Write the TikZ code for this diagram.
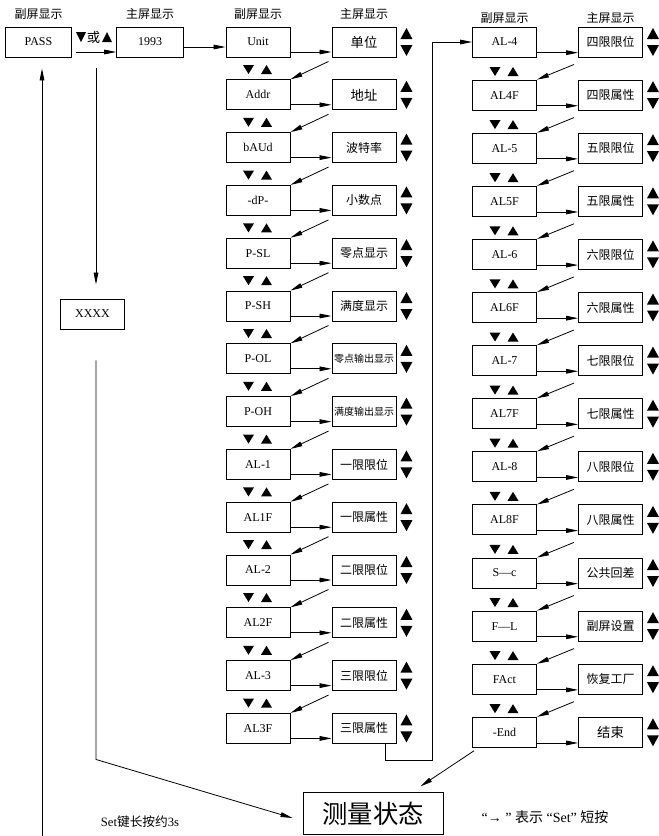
\documentclass[tikz,border=0pt]{standalone}
\usepackage{fontspec}
\setmainfont{Liberation Serif}
\newfontfamily\cjk{Noto Sans CJK SC}
\usetikzlibrary{positioning, arrows.meta}

\begin{document}
\begin{tikzpicture}[x=0.75pt, y=-0.75pt, font=\fontsize{9}{10}\selectfont,
    box/.style={draw, line width=0.7pt, minimum width=48pt, minimum height=22.5pt, inner sep=0pt},
    disp/.style={box, font=\cjk\fontsize{9}{10}\selectfont},
    head/.style={font=\cjk\fontsize{9}{10}\selectfont, inner sep=0pt},
    arr/.style={-{Triangle[length=9pt, width=3.5pt]}, line width=0.6pt}]
  \useasboundingbox (0,0) rectangle (658,836);
  % top row: password
  \node[box, minimum width=50pt] (pass) at (38.5,42) {PASS};
  \node[box, minimum width=50pt] (yr) at (150,42) {1993};
  \node[head, above=5pt of pass] (hp) {副屏显示};
  \node[head, above=5pt of yr] (hy) {主屏显示};
  \node[head, font=\cjk\fontsize{10}{11}\selectfont] (orkey) at (93.5,37) {或};
  \fill ([shift={(-17.5,-5)}]orkey.center) -- ++(10,0) -- ++(-5,10) -- cycle;
  \fill ([shift={(8.5,5)}]orkey.center) -- ++(10,0) -- ++(-5,-10) -- cycle;
  \node[box] (xxxx) at (92.5,314) {XXXX};
  \node[box, minimum width=105pt, minimum height=31pt, font=\cjk\fontsize{19}{21}\selectfont] (meas) at (373,813.5) {测量状态};
  % left column
  \foreach \s/\m [count=\i from 0] in {Unit/{\fontsize{10}{11}\selectfont 单位}, Addr/{\fontsize{10}{11}\selectfont 地址}, bAUd/波特率, -dP-/小数点, P-SL/零点显示, P-SH/满度显示, P-OL/{\fontsize{7.5}{8}\selectfont 零点输出显示}, P-OH/{\fontsize{7.5}{8}\selectfont 满度输出显示}, AL-1/一限限位, AL1F/一限属性, AL-2/二限限位, AL2F/二限属性, AL-3/三限限位, AL3F/三限属性} {
    \pgfmathsetmacro\yy{42 + \i*52.8}
    \node[box] (ls\i) at (258,\yy) {\s};
    \node[disp] (lm\i) at (364,\yy) {\m};
    \draw[arr] ([yshift=-7.5pt]ls\i.east) -- ([yshift=-7.5pt]lm\i.west);
    \fill ([shift={(4,-3)}]lm\i.east) -- ++(12,0) -- ++(-6,-11) -- cycle;
    \fill ([shift={(4,3)}]lm\i.east) -- ++(12,0) -- ++(-6,11) -- cycle;
    \ifnum\i<13
      \fill ([shift={(-15,23)}]ls\i.center) -- ++(11,0) -- ++(-5.5,9) -- cycle;
      \fill ([shift={(3,32)}]ls\i.center) -- ++(11,0) -- ++(-5.5,-9) -- cycle;
    \fi
  }
  \foreach \i in {0,...,12} {
    \pgfmathtruncatemacro\j{\i+1}
    \draw[arr] ([shift={(-3,4)}]lm\i.south west) -- (ls\j.north east);
  }
  \node[head, above=5pt of ls0] (hls) {副屏显示};
  \node[head, above=5pt of lm0] (hlm) {主屏显示};
  % right column
  \foreach \s/\m [count=\i from 0] in {AL-4/四限限位, AL4F/四限属性, AL-5/五限限位, AL5F/五限属性, AL-6/六限限位, AL6F/六限属性, AL-7/七限限位, AL7F/七限属性, AL-8/八限限位, AL8F/八限属性, S—c/公共回差, F—L/副屏设置, FAct/恢复工厂, -End/{\fontsize{10}{11}\selectfont 结束}} {
    \pgfmathsetmacro\yy{42 + \i*53.1}
    \node[box] (rs\i) at (504.5,\yy) {\s};
    \node[disp] (rm\i) at (610.5,\yy) {\m};
    \draw[arr] ([yshift=-8pt]rs\i.east) -- ([yshift=-8pt]rm\i.west);
    \fill ([shift={(4,-3)}]rm\i.east) -- ++(12,0) -- ++(-6,-11) -- cycle;
    \fill ([shift={(4,3)}]rm\i.east) -- ++(12,0) -- ++(-6,11) -- cycle;
    \ifnum\i<13
      \fill ([shift={(-15,25)}]rs\i.center) -- ++(11,0) -- ++(-5.5,9) -- cycle;
      \fill ([shift={(3,34)}]rs\i.center) -- ++(11,0) -- ++(-5.5,-9) -- cycle;
    \fi
  }
  \foreach \i in {0,...,12} {
    \pgfmathtruncatemacro\j{\i+1}
    \draw[arr] ([shift={(-4,7)}]rm\i.south west) -- (rs\j.north east);
  }
  \node[head, above=2pt of rs0] (hrs) {副屏显示};
  \node[head, above=2pt of rm0] (hrm) {主屏显示};
  % connectors
  \coordinate (down) at (96,68);
  \coordinate (back) at (42,836);
  \draw[arr] ([shift={(4,10)}]pass.east) -- ([yshift=-7.5pt]yr.west);
  \draw[arr] ([yshift=-3.75pt]yr.east) -- ([yshift=-3.75pt]ls0.west);
  \draw[arr, shorten >=10.5pt] (down) -- (down |- xxxx.north);
  \draw[arr] ([shift={(3.5,31)}]xxxx.south) -- ++(0,399) -- ([shift={(-10,4.5)}]meas.west);
  \draw[arr] (back) -- ([shift={(3.5,11)}]pass.south);
  \draw[arr] ([xshift=-8.25pt]lm13.south east) -- ++(0,17) -| ([xshift=-30pt]rs0.west) -- (rs0.west);
  \draw[arr] ([shift={(2,3)}]rs13.south west) -- ([shift={(-23,-6)}]meas.north east);
  \node[font=\fontsize{9.5}{11}\selectfont] (longset) at (140,822) {Set{\cjk 键长按约}3s};
  \node[font=\fontsize{10.5}{12}\selectfont] (legend) at (545,817) {“→ ” {\cjk 表示} “Set” {\cjk 短按}};
\end{tikzpicture}
\end{document}
